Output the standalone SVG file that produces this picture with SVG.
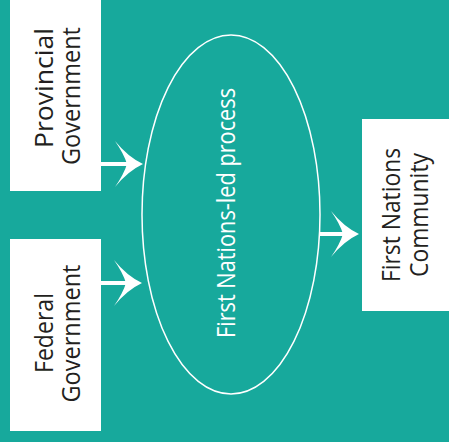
<svg xmlns="http://www.w3.org/2000/svg" width="449" height="442" viewBox="0 0 449 442">
  <style>
    .box { fill: #ffffff; }
    .lbl { font-family: "Open Sans", "Liberation Sans", Arial, sans-serif; font-size: 25.5px; fill: #231f20; text-anchor: middle; }
    .wlbl { font-family: "Open Sans", "Liberation Sans", Arial, sans-serif; font-size: 25.5px; fill: #ffffff; text-anchor: middle; }
    .shaft { stroke: #ffffff; stroke-width: 4; fill: none; }
    .head { fill: #ffffff; }
  </style>
  <defs>
    <path id="ah" d="M0,0 Q-15,-7 -28,-23 Q-19,-10 -16,0 Q-19,10 -28,23 Q-15,7 0,0 Z"/>
  </defs>
  <rect x="0" y="0" width="449" height="442" fill="#17a99c"/>

  <g id="provincial">
    <rect class="box" x="10" y="0" width="91" height="191"/>
    <text class="lbl" transform="translate(52.5,88) rotate(-90)" textLength="120" lengthAdjust="spacingAndGlyphs">Provincial</text>
    <text class="lbl" transform="translate(79.5,96) rotate(-90)" textLength="138" lengthAdjust="spacingAndGlyphs">Government</text>
  </g>

  <g id="federal">
    <rect class="box" x="10" y="239" width="91" height="192"/>
    <text class="lbl" transform="translate(52.5,333) rotate(-90)" textLength="80" lengthAdjust="spacingAndGlyphs">Federal</text>
    <text class="lbl" transform="translate(79.5,333.5) rotate(-90)" textLength="138" lengthAdjust="spacingAndGlyphs">Government</text>
  </g>

  <g id="process">
    <ellipse cx="231" cy="214.5" rx="89" ry="179.5" fill="none" stroke="#ffffff" stroke-width="1.5"/>
    <text class="wlbl" transform="translate(235,213) rotate(-90)" textLength="250" lengthAdjust="spacingAndGlyphs">First Nations-led process</text>
  </g>

  <g id="community">
    <rect class="box" x="362" y="119" width="87" height="192"/>
    <text class="lbl" transform="translate(400,215) rotate(-90)" textLength="134" lengthAdjust="spacingAndGlyphs">First Nations</text>
    <text class="lbl" transform="translate(428,215) rotate(-90)" textLength="124" lengthAdjust="spacingAndGlyphs">Community</text>
  </g>

  <g id="connectors">
    <line class="shaft" x1="101" y1="164" x2="128" y2="164"/>
    <use href="#ah" class="head" transform="translate(143,164)"/>
    <line class="shaft" x1="101" y1="283" x2="127" y2="283"/>
    <use href="#ah" class="head" transform="translate(142,283)"/>
    <line class="shaft" x1="320" y1="234" x2="344" y2="234"/>
    <use href="#ah" class="head" transform="translate(359,234)"/>
  </g>
</svg>
